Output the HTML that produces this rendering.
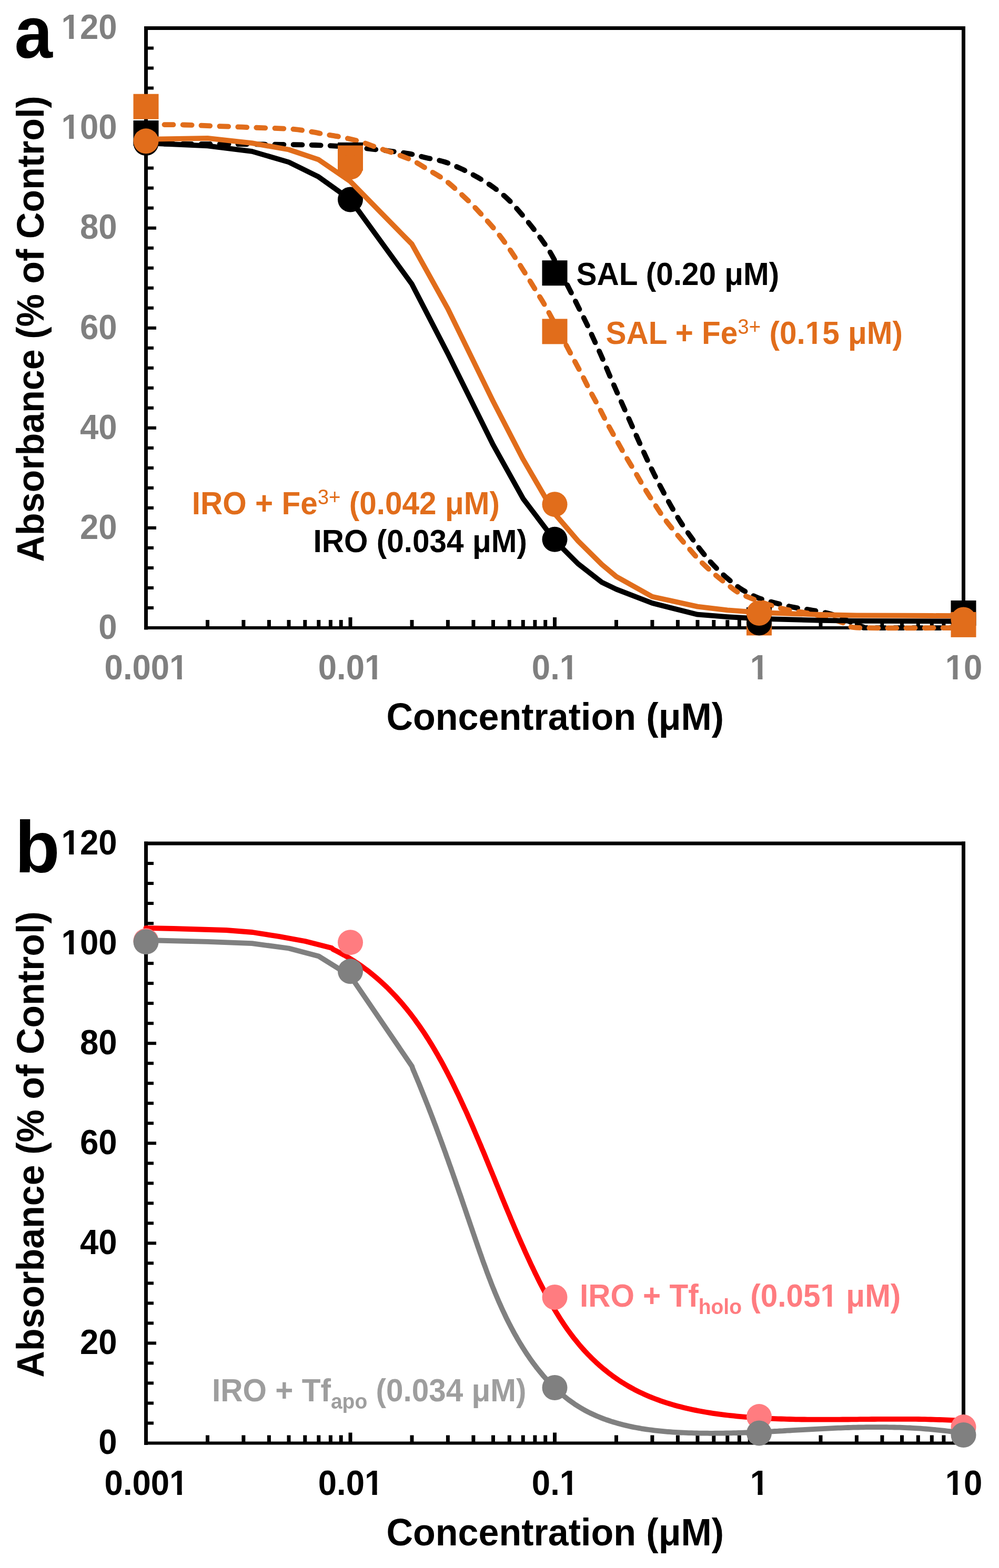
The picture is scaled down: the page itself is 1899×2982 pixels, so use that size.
<!DOCTYPE html><html><head><meta charset="utf-8"><style>html,body{margin:0;padding:0;background:#fff}svg{display:block}</style></head><body><svg xmlns="http://www.w3.org/2000/svg" width="1899" height="2982" viewBox="0 0 1899 2982" font-family="'Liberation Sans', Arial, sans-serif" font-weight="bold">
<rect width="1899" height="2982" fill="#fff"/>
<defs><clipPath id="c1" clipPathUnits="userSpaceOnUse"><path clip-rule="evenodd" d="M-4000,-4000 H4000 V4000 H-4000 Z M-106.62,-7.38 H-94.69 V1.98 H-106.62 Z M-85.40,-7.38 H-74.33 V1.98 H-85.40 Z"/></clipPath><clipPath id="c2" clipPathUnits="userSpaceOnUse"><path clip-rule="evenodd" d="M-4000,-4000 H4000 V4000 H-4000 Z M-106.62,-7.38 H-94.69 V1.98 H-106.62 Z M-85.40,-7.38 H-74.33 V1.98 H-85.40 Z"/></clipPath><clipPath id="c3" clipPathUnits="userSpaceOnUse"><path clip-rule="evenodd" d="M-4000,-4000 H4000 V4000 H-4000 Z M49.06,-7.38 H60.99 V1.98 H49.06 Z M70.28,-7.38 H81.35 V1.98 H70.28 Z"/></clipPath><clipPath id="c4" clipPathUnits="userSpaceOnUse"><path clip-rule="evenodd" d="M-4000,-4000 H4000 V4000 H-4000 Z M30.76,-7.38 H42.68 V1.98 H30.76 Z M51.97,-7.38 H63.04 V1.98 H51.97 Z"/></clipPath><clipPath id="c5" clipPathUnits="userSpaceOnUse"><path clip-rule="evenodd" d="M-4000,-4000 H4000 V4000 H-4000 Z M12.43,-7.38 H24.35 V1.98 H12.43 Z M33.64,-7.38 H44.71 V1.98 H33.64 Z"/></clipPath><clipPath id="c6" clipPathUnits="userSpaceOnUse"><path clip-rule="evenodd" d="M-4000,-4000 H4000 V4000 H-4000 Z M-15.03,-7.38 H-3.10 V1.98 H-15.03 Z M6.19,-7.38 H17.26 V1.98 H6.19 Z"/></clipPath><clipPath id="c7" clipPathUnits="userSpaceOnUse"><path clip-rule="evenodd" d="M-4000,-4000 H4000 V4000 H-4000 Z M-33.34,-7.38 H-21.41 V1.98 H-33.34 Z M-12.12,-7.38 H-1.05 V1.98 H-12.12 Z"/></clipPath><clipPath id="c8" clipPathUnits="userSpaceOnUse"><path clip-rule="evenodd" d="M-4000,-4000 H4000 V4000 H-4000 Z M396.50,-6.80 H407.49 V1.82 H396.50 Z M416.05,-6.80 H426.24 V1.82 H416.05 Z"/></clipPath><clipPath id="c9" clipPathUnits="userSpaceOnUse"><path clip-rule="evenodd" d="M-4000,-4000 H4000 V4000 H-4000 Z M-106.62,-7.38 H-94.69 V1.98 H-106.62 Z M-85.40,-7.38 H-74.33 V1.98 H-85.40 Z"/></clipPath><clipPath id="c10" clipPathUnits="userSpaceOnUse"><path clip-rule="evenodd" d="M-4000,-4000 H4000 V4000 H-4000 Z M-106.62,-7.38 H-94.69 V1.98 H-106.62 Z M-85.40,-7.38 H-74.33 V1.98 H-85.40 Z"/></clipPath><clipPath id="c11" clipPathUnits="userSpaceOnUse"><path clip-rule="evenodd" d="M-4000,-4000 H4000 V4000 H-4000 Z M49.06,-7.38 H60.99 V1.98 H49.06 Z M70.28,-7.38 H81.35 V1.98 H70.28 Z"/></clipPath><clipPath id="c12" clipPathUnits="userSpaceOnUse"><path clip-rule="evenodd" d="M-4000,-4000 H4000 V4000 H-4000 Z M30.76,-7.38 H42.68 V1.98 H30.76 Z M51.97,-7.38 H63.04 V1.98 H51.97 Z"/></clipPath><clipPath id="c13" clipPathUnits="userSpaceOnUse"><path clip-rule="evenodd" d="M-4000,-4000 H4000 V4000 H-4000 Z M12.43,-7.38 H24.35 V1.98 H12.43 Z M33.64,-7.38 H44.71 V1.98 H33.64 Z"/></clipPath><clipPath id="c14" clipPathUnits="userSpaceOnUse"><path clip-rule="evenodd" d="M-4000,-4000 H4000 V4000 H-4000 Z M-15.03,-7.38 H-3.10 V1.98 H-15.03 Z M6.19,-7.38 H17.26 V1.98 H6.19 Z"/></clipPath><clipPath id="c15" clipPathUnits="userSpaceOnUse"><path clip-rule="evenodd" d="M-4000,-4000 H4000 V4000 H-4000 Z M-33.34,-7.38 H-21.41 V1.98 H-33.34 Z M-12.12,-7.38 H-1.05 V1.98 H-12.12 Z"/></clipPath><clipPath id="c16" clipPathUnits="userSpaceOnUse"><path clip-rule="evenodd" d="M-4000,-4000 H4000 V4000 H-4000 Z M477.93,-6.80 H488.92 V1.82 H477.93 Z M497.48,-6.80 H507.68 V1.82 H497.48 Z"/></clipPath></defs>
<line x1="277.5" y1="50.0" x2="277.5" y2="1197.5" stroke="#000" stroke-width="7"/>
<line x1="1831.5" y1="50.0" x2="1831.5" y2="1197.5" stroke="#000" stroke-width="7"/>
<line x1="274.0" y1="53.5" x2="1835.0" y2="53.5" stroke="#000" stroke-width="7"/>
<line x1="274.0" y1="1194.0" x2="1835.0" y2="1194.0" stroke="#000" stroke-width="6"/>
<line x1="277.5" y1="1156.0" x2="292" y2="1156.0" stroke="#000" stroke-width="6"/>
<line x1="277.5" y1="1118.0" x2="292" y2="1118.0" stroke="#000" stroke-width="6"/>
<line x1="277.5" y1="1080.0" x2="292" y2="1080.0" stroke="#000" stroke-width="6"/>
<line x1="277.5" y1="1041.9" x2="292" y2="1041.9" stroke="#000" stroke-width="6"/>
<line x1="277.5" y1="1003.9" x2="297" y2="1003.9" stroke="#000" stroke-width="6"/>
<line x1="277.5" y1="965.9" x2="292" y2="965.9" stroke="#000" stroke-width="6"/>
<line x1="277.5" y1="927.9" x2="292" y2="927.9" stroke="#000" stroke-width="6"/>
<line x1="277.5" y1="889.9" x2="292" y2="889.9" stroke="#000" stroke-width="6"/>
<line x1="277.5" y1="851.9" x2="292" y2="851.9" stroke="#000" stroke-width="6"/>
<line x1="277.5" y1="813.8" x2="297" y2="813.8" stroke="#000" stroke-width="6"/>
<line x1="277.5" y1="775.8" x2="292" y2="775.8" stroke="#000" stroke-width="6"/>
<line x1="277.5" y1="737.8" x2="292" y2="737.8" stroke="#000" stroke-width="6"/>
<line x1="277.5" y1="699.8" x2="292" y2="699.8" stroke="#000" stroke-width="6"/>
<line x1="277.5" y1="661.8" x2="292" y2="661.8" stroke="#000" stroke-width="6"/>
<line x1="277.5" y1="623.8" x2="297" y2="623.8" stroke="#000" stroke-width="6"/>
<line x1="277.5" y1="585.7" x2="292" y2="585.7" stroke="#000" stroke-width="6"/>
<line x1="277.5" y1="547.7" x2="292" y2="547.7" stroke="#000" stroke-width="6"/>
<line x1="277.5" y1="509.7" x2="292" y2="509.7" stroke="#000" stroke-width="6"/>
<line x1="277.5" y1="471.7" x2="292" y2="471.7" stroke="#000" stroke-width="6"/>
<line x1="277.5" y1="433.7" x2="297" y2="433.7" stroke="#000" stroke-width="6"/>
<line x1="277.5" y1="395.6" x2="292" y2="395.6" stroke="#000" stroke-width="6"/>
<line x1="277.5" y1="357.6" x2="292" y2="357.6" stroke="#000" stroke-width="6"/>
<line x1="277.5" y1="319.6" x2="292" y2="319.6" stroke="#000" stroke-width="6"/>
<line x1="277.5" y1="281.6" x2="292" y2="281.6" stroke="#000" stroke-width="6"/>
<line x1="277.5" y1="243.6" x2="297" y2="243.6" stroke="#000" stroke-width="6"/>
<line x1="277.5" y1="205.6" x2="292" y2="205.6" stroke="#000" stroke-width="6"/>
<line x1="277.5" y1="167.5" x2="292" y2="167.5" stroke="#000" stroke-width="6"/>
<line x1="277.5" y1="129.5" x2="292" y2="129.5" stroke="#000" stroke-width="6"/>
<line x1="277.5" y1="91.5" x2="292" y2="91.5" stroke="#000" stroke-width="6"/>
<line x1="394.5" y1="1194.0" x2="394.5" y2="1179.0" stroke="#000" stroke-width="7"/>
<line x1="462.9" y1="1194.0" x2="462.9" y2="1179.0" stroke="#000" stroke-width="7"/>
<line x1="511.4" y1="1194.0" x2="511.4" y2="1179.0" stroke="#000" stroke-width="7"/>
<line x1="549.0" y1="1194.0" x2="549.0" y2="1179.0" stroke="#000" stroke-width="7"/>
<line x1="579.8" y1="1194.0" x2="579.8" y2="1179.0" stroke="#000" stroke-width="7"/>
<line x1="605.8" y1="1194.0" x2="605.8" y2="1179.0" stroke="#000" stroke-width="7"/>
<line x1="628.4" y1="1194.0" x2="628.4" y2="1179.0" stroke="#000" stroke-width="7"/>
<line x1="648.2" y1="1194.0" x2="648.2" y2="1179.0" stroke="#000" stroke-width="7"/>
<line x1="666.0" y1="1194.0" x2="666.0" y2="1174.0" stroke="#000" stroke-width="7"/>
<line x1="783.0" y1="1194.0" x2="783.0" y2="1179.0" stroke="#000" stroke-width="7"/>
<line x1="851.4" y1="1194.0" x2="851.4" y2="1179.0" stroke="#000" stroke-width="7"/>
<line x1="899.9" y1="1194.0" x2="899.9" y2="1179.0" stroke="#000" stroke-width="7"/>
<line x1="937.5" y1="1194.0" x2="937.5" y2="1179.0" stroke="#000" stroke-width="7"/>
<line x1="968.3" y1="1194.0" x2="968.3" y2="1179.0" stroke="#000" stroke-width="7"/>
<line x1="994.3" y1="1194.0" x2="994.3" y2="1179.0" stroke="#000" stroke-width="7"/>
<line x1="1016.9" y1="1194.0" x2="1016.9" y2="1179.0" stroke="#000" stroke-width="7"/>
<line x1="1036.7" y1="1194.0" x2="1036.7" y2="1179.0" stroke="#000" stroke-width="7"/>
<line x1="1054.5" y1="1194.0" x2="1054.5" y2="1174.0" stroke="#000" stroke-width="7"/>
<line x1="1171.5" y1="1194.0" x2="1171.5" y2="1179.0" stroke="#000" stroke-width="7"/>
<line x1="1239.9" y1="1194.0" x2="1239.9" y2="1179.0" stroke="#000" stroke-width="7"/>
<line x1="1288.4" y1="1194.0" x2="1288.4" y2="1179.0" stroke="#000" stroke-width="7"/>
<line x1="1326.0" y1="1194.0" x2="1326.0" y2="1179.0" stroke="#000" stroke-width="7"/>
<line x1="1356.8" y1="1194.0" x2="1356.8" y2="1179.0" stroke="#000" stroke-width="7"/>
<line x1="1382.8" y1="1194.0" x2="1382.8" y2="1179.0" stroke="#000" stroke-width="7"/>
<line x1="1405.4" y1="1194.0" x2="1405.4" y2="1179.0" stroke="#000" stroke-width="7"/>
<line x1="1425.2" y1="1194.0" x2="1425.2" y2="1179.0" stroke="#000" stroke-width="7"/>
<line x1="1443.0" y1="1194.0" x2="1443.0" y2="1174.0" stroke="#000" stroke-width="7"/>
<line x1="1560.0" y1="1194.0" x2="1560.0" y2="1179.0" stroke="#000" stroke-width="7"/>
<line x1="1628.4" y1="1194.0" x2="1628.4" y2="1179.0" stroke="#000" stroke-width="7"/>
<line x1="1676.9" y1="1194.0" x2="1676.9" y2="1179.0" stroke="#000" stroke-width="7"/>
<line x1="1714.5" y1="1194.0" x2="1714.5" y2="1179.0" stroke="#000" stroke-width="7"/>
<line x1="1745.3" y1="1194.0" x2="1745.3" y2="1179.0" stroke="#000" stroke-width="7"/>
<line x1="1771.3" y1="1194.0" x2="1771.3" y2="1179.0" stroke="#000" stroke-width="7"/>
<line x1="1793.9" y1="1194.0" x2="1793.9" y2="1179.0" stroke="#000" stroke-width="7"/>
<line x1="1813.7" y1="1194.0" x2="1813.7" y2="1179.0" stroke="#000" stroke-width="7"/>
<text transform="translate(222.5,1214.7) scale(0.9637,1)" font-size="65.89" text-anchor="end" fill="#808080">0</text>
<text transform="translate(222.5,1024.6) scale(0.9637,1)" font-size="65.89" text-anchor="end" fill="#808080">20</text>
<text transform="translate(222.5,834.5) scale(0.9637,1)" font-size="65.89" text-anchor="end" fill="#808080">40</text>
<text transform="translate(222.5,644.5) scale(0.9637,1)" font-size="65.89" text-anchor="end" fill="#808080">60</text>
<text transform="translate(222.5,454.4) scale(0.9637,1)" font-size="65.89" text-anchor="end" fill="#808080">80</text>
<text id="t1" clip-path="url(#c1)" transform="translate(222.5,264.3) scale(0.9637,1)" font-size="65.89" text-anchor="end" fill="#808080">100</text>
<text id="t2" clip-path="url(#c2)" transform="translate(222.5,74.2) scale(0.9637,1)" font-size="65.89" text-anchor="end" fill="#808080">120</text>
<text id="t3" clip-path="url(#c3)" transform="translate(278.0,1292.0) scale(0.9637,1)" font-size="65.89" text-anchor="middle" fill="#808080">0.001</text>
<text id="t4" clip-path="url(#c4)" transform="translate(666.5,1292.0) scale(0.9637,1)" font-size="65.89" text-anchor="middle" fill="#808080">0.01</text>
<text id="t5" clip-path="url(#c5)" transform="translate(1055.0,1292.0) scale(0.9637,1)" font-size="65.89" text-anchor="middle" fill="#808080">0.1</text>
<text id="t6" clip-path="url(#c6)" transform="translate(1443.5,1292.0) scale(0.9637,1)" font-size="65.89" text-anchor="middle" fill="#808080">1</text>
<text id="t7" clip-path="url(#c7)" transform="translate(1832.0,1292.0) scale(0.9637,1)" font-size="65.89" text-anchor="middle" fill="#808080">10</text>
<text transform="translate(1055.3,1387.5) scale(0.9637,1)" font-size="72.64" text-anchor="middle">Concentration (μM)</text>
<text transform="translate(83.0,625.5) rotate(-90) scale(0.9637,1)" font-size="72.64" text-anchor="middle">Absorbance (% of Control)</text>
<text transform="translate(27.6,109.5) scale(0.93,1)" font-size="140">a</text>
<path d="M277.5,273.5 C297.9,273.6 362.9,273.8 400.0,274.0 C437.1,274.2 466.7,274.2 500.0,274.5 C533.3,274.8 572.3,275.2 600.0,276.0 C627.7,276.8 648.1,278.2 666.0,279.5 C683.9,280.8 694.7,282.3 707.5,283.6 C720.3,284.9 731.0,286.0 742.7,287.5 C754.5,289.0 766.6,290.3 778.0,292.4 C789.4,294.5 800.0,297.6 811.2,300.2 C822.5,302.8 834.4,304.5 845.5,308.0 C856.6,311.5 867.3,316.5 877.8,321.4 C888.3,326.3 898.4,331.8 908.5,337.6 C918.6,343.4 928.7,349.5 938.2,356.4 C947.7,363.3 957.1,370.9 965.6,378.9 C974.1,386.9 981.4,395.6 989.0,404.4 C996.6,413.2 1004.3,422.7 1011.5,431.8 C1018.7,440.9 1025.7,450.1 1032.1,459.2 C1038.5,468.3 1041.2,471.3 1049.7,486.6 C1058.2,501.9 1074.8,535.1 1083.0,551.1 C1091.2,567.1 1093.4,572.0 1098.6,582.4 C1103.8,592.8 1109.2,603.2 1114.3,613.8 C1119.4,624.4 1124.1,635.2 1129.0,646.0 C1133.9,656.8 1139.0,667.5 1143.7,678.3 C1148.4,689.1 1152.8,699.8 1157.4,710.6 C1162.0,721.4 1166.8,732.1 1171.5,742.9 C1176.2,753.6 1181.0,764.4 1185.8,775.1 C1190.6,785.8 1195.4,796.4 1200.1,807.0 C1204.8,817.6 1209.4,828.1 1214.2,838.7 C1219.0,849.4 1223.8,860.3 1228.7,870.9 C1233.6,881.5 1238.4,891.7 1243.6,902.1 C1248.8,912.5 1254.2,923.0 1259.8,933.4 C1265.3,943.8 1271.1,954.6 1276.9,964.7 C1282.7,974.8 1288.2,984.2 1294.5,994.0 C1300.8,1003.8 1308.2,1013.9 1315.0,1023.4 C1321.8,1032.9 1328.3,1041.8 1335.6,1050.8 C1342.8,1059.8 1350.3,1068.7 1358.5,1077.2 C1366.7,1085.7 1375.7,1094.1 1384.6,1101.6 C1393.5,1109.1 1402.2,1116.2 1412.0,1122.2 C1421.8,1128.2 1432.3,1133.5 1443.1,1137.7 C1453.9,1141.9 1465.5,1144.5 1476.8,1147.5 C1488.1,1150.5 1499.6,1153.2 1511.0,1155.4 C1522.4,1157.6 1533.5,1158.6 1545.0,1160.7 C1556.5,1162.8 1569.2,1164.8 1580.0,1168.0 C1590.8,1171.2 1600.0,1176.0 1610.0,1180.0 C1620.0,1184.0 1631.7,1189.7 1640.0,1192.0 C1648.3,1194.3 1628.1,1193.7 1660.0,1194.0 C1691.9,1194.3 1802.9,1194.0 1831.5,1194.0" fill="none" stroke="#000" stroke-width="9.8" stroke-linejoin="round" stroke-linecap="round" stroke-dasharray="16.9 18.1"/>
<path d="M277.5,237.0 C289.6,237.1 327.0,237.0 350.0,237.5 C373.0,238.0 393.4,239.2 415.7,240.0 C437.9,240.8 460.9,241.7 483.5,242.6 C506.1,243.5 534.0,244.0 551.4,245.2 C568.8,246.4 576.7,248.2 588.0,250.0 C599.3,251.8 608.4,253.8 619.2,255.7 C630.0,257.6 641.5,259.1 652.7,261.5 C663.9,263.9 675.2,266.5 686.4,269.9 C697.5,273.2 708.5,277.8 719.6,281.6 C730.7,285.4 741.9,288.7 752.9,292.8 C763.9,296.9 775.4,301.0 785.8,306.1 C796.2,311.2 805.5,317.7 815.5,323.7 C825.5,329.7 836.1,335.4 845.5,342.3 C854.9,349.2 863.1,356.9 871.9,364.8 C880.6,372.7 889.9,381.3 898.0,389.5 C906.1,397.7 913.1,405.6 920.8,414.1 C928.5,422.6 936.7,431.6 944.0,440.6 C951.3,449.6 957.9,458.6 964.6,468.0 C971.3,477.4 977.8,487.5 984.1,497.3 C990.5,507.1 996.5,516.8 1002.7,526.7 C1008.9,536.7 1015.3,547.0 1021.3,557.0 C1027.3,567.0 1027.6,565.9 1038.9,586.4 C1050.2,606.9 1077.8,659.4 1088.9,680.2 C1100.0,701.1 1100.2,701.1 1105.6,711.5 C1111.0,721.9 1115.8,732.2 1121.2,742.5 C1126.6,752.8 1132.3,762.9 1137.8,773.2 C1143.2,783.5 1148.4,794.2 1153.9,804.5 C1159.4,814.8 1165.0,824.6 1170.7,834.8 C1176.4,845.0 1182.0,855.3 1188.0,865.5 C1194.0,875.7 1200.4,886.0 1206.4,896.2 C1212.4,906.4 1218.0,916.5 1224.0,926.5 C1230.0,936.5 1236.2,946.1 1242.6,955.9 C1249.0,965.7 1255.3,975.8 1262.2,985.2 C1269.1,994.7 1276.4,1003.6 1283.7,1012.6 C1291.0,1021.6 1298.5,1030.2 1306.2,1039.0 C1313.9,1047.8 1321.5,1057.1 1329.7,1065.5 C1337.9,1073.9 1346.4,1081.8 1355.2,1089.4 C1364.0,1097.1 1373.2,1104.5 1382.6,1111.4 C1392.0,1118.3 1395.6,1123.7 1411.6,1131.0 C1427.6,1138.3 1456.5,1149.1 1478.7,1155.3 C1500.9,1161.5 1526.5,1163.9 1545.0,1168.0 C1563.5,1172.1 1578.5,1176.6 1590.0,1180.0 C1601.5,1183.4 1605.5,1186.3 1613.8,1188.6 C1622.1,1190.9 1603.7,1193.1 1640.0,1194.0 C1676.3,1194.9 1799.6,1194.0 1831.5,1194.0" fill="none" stroke="#E16D1B" stroke-width="9.8" stroke-linejoin="round" stroke-linecap="round" stroke-dasharray="16.9 18.1"/>
<rect x="253.5" y="229.1" width="48" height="48" fill="#000"/>
<rect x="642.0" y="270.9" width="48" height="48" fill="#000"/>
<rect x="1030.5" y="495.2" width="48" height="48" fill="#000"/>
<rect x="1419.0" y="1155.0" width="48" height="48" fill="#000"/>
<rect x="1807.5" y="1142.0" width="48" height="48" fill="#000"/>
<rect x="253.5" y="178.7" width="48" height="48" fill="#E16D1B"/>
<rect x="642.0" y="276.6" width="48" height="48" fill="#E16D1B"/>
<rect x="1030.5" y="606.4" width="48" height="48" fill="#E16D1B"/>
<rect x="1419.0" y="1160.5" width="48" height="48" fill="#E16D1B"/>
<rect x="1807.5" y="1163.9" width="48" height="48" fill="#E16D1B"/>
<polyline points="277.5,272.0 394.5,277.4 478.9,287.9 549.0,308.4 605.8,336.4 666.0,379.5 783.0,540.4 851.4,672.7 937.5,846.2 994.3,948.2 1054.5,1027.7 1098.8,1072.1 1144.0,1107.3 1171.5,1120.6 1239.9,1147.0 1326.0,1168.7 1382.8,1173.1 1443.0,1176.6 1560.0,1179.9 1628.4,1180.8 1714.5,1181.1 1771.3,1181.3 1831.5,1181.5" fill="none" stroke="#000" stroke-width="9.8" stroke-linejoin="round" stroke-linecap="round"/>
<circle cx="277.5" cy="272.1" r="24" fill="#000"/>
<circle cx="666.0" cy="379.5" r="24" fill="#000"/>
<circle cx="1054.5" cy="1025.8" r="24" fill="#000"/>
<circle cx="1443.0" cy="1184.5" r="24" fill="#000"/>
<polyline points="277.5,264.8 394.5,262.8 478.9,272.2 549.0,284.5 605.8,303.7 666.0,345.0 783.0,464.3 851.4,587.4 937.5,763.6 994.3,873.4 1054.5,977.0 1098.8,1028.7 1144.0,1073.5 1171.5,1096.5 1239.9,1134.7 1326.0,1153.6 1382.8,1160.3 1443.0,1164.8 1560.0,1169.0 1628.4,1170.4 1714.5,1170.7 1771.3,1171.0 1831.5,1171.2" fill="none" stroke="#E16D1B" stroke-width="9.8" stroke-linejoin="round" stroke-linecap="round"/>
<circle cx="277.5" cy="268.3" r="24" fill="#E16D1B"/>
<circle cx="666.0" cy="317.7" r="24" fill="#E16D1B"/>
<circle cx="1054.5" cy="959.2" r="24" fill="#E16D1B"/>
<circle cx="1443.0" cy="1166.0" r="24" fill="#E16D1B"/>
<circle cx="1831.5" cy="1178.4" r="24" fill="#E16D1B"/>
<text transform="translate(1095.5,542.0) scale(0.9637,1)" font-size="60.70">SAL (0.20 μM)</text>
<text id="t8" clip-path="url(#c8)" transform="translate(1151.5,654.0) scale(0.9637,1)" font-size="60.70" fill="#E16D1B">SAL + Fe<tspan font-size="39.95" font-weight="normal" dy="-19">3+</tspan><tspan dy="19"> (0.15 μM)</tspan></text>
<text transform="translate(364.8,977.8) scale(0.9637,1)" font-size="60.70" fill="#E16D1B">IRO + Fe<tspan font-size="39.95" font-weight="normal" dy="-19">3+</tspan><tspan dy="19"> (0.042 μM)</tspan></text>
<text transform="translate(595.6,1049.9) scale(0.9637,1)" font-size="60.70">IRO (0.034 μM)</text>
<line x1="277.5" y1="1600.5" x2="277.5" y2="2748.0" stroke="#000" stroke-width="7"/>
<line x1="1831.5" y1="1600.5" x2="1831.5" y2="2748.0" stroke="#000" stroke-width="7"/>
<line x1="274.0" y1="1604.0" x2="1835.0" y2="1604.0" stroke="#000" stroke-width="7"/>
<line x1="274.0" y1="2744.5" x2="1835.0" y2="2744.5" stroke="#000" stroke-width="6"/>
<line x1="277.5" y1="2706.5" x2="292" y2="2706.5" stroke="#000" stroke-width="6"/>
<line x1="277.5" y1="2668.5" x2="292" y2="2668.5" stroke="#000" stroke-width="6"/>
<line x1="277.5" y1="2630.4" x2="292" y2="2630.4" stroke="#000" stroke-width="6"/>
<line x1="277.5" y1="2592.4" x2="292" y2="2592.4" stroke="#000" stroke-width="6"/>
<line x1="277.5" y1="2554.4" x2="297" y2="2554.4" stroke="#000" stroke-width="6"/>
<line x1="277.5" y1="2516.4" x2="292" y2="2516.4" stroke="#000" stroke-width="6"/>
<line x1="277.5" y1="2478.4" x2="292" y2="2478.4" stroke="#000" stroke-width="6"/>
<line x1="277.5" y1="2440.4" x2="292" y2="2440.4" stroke="#000" stroke-width="6"/>
<line x1="277.5" y1="2402.3" x2="292" y2="2402.3" stroke="#000" stroke-width="6"/>
<line x1="277.5" y1="2364.3" x2="297" y2="2364.3" stroke="#000" stroke-width="6"/>
<line x1="277.5" y1="2326.3" x2="292" y2="2326.3" stroke="#000" stroke-width="6"/>
<line x1="277.5" y1="2288.3" x2="292" y2="2288.3" stroke="#000" stroke-width="6"/>
<line x1="277.5" y1="2250.3" x2="292" y2="2250.3" stroke="#000" stroke-width="6"/>
<line x1="277.5" y1="2212.3" x2="292" y2="2212.3" stroke="#000" stroke-width="6"/>
<line x1="277.5" y1="2174.2" x2="297" y2="2174.2" stroke="#000" stroke-width="6"/>
<line x1="277.5" y1="2136.2" x2="292" y2="2136.2" stroke="#000" stroke-width="6"/>
<line x1="277.5" y1="2098.2" x2="292" y2="2098.2" stroke="#000" stroke-width="6"/>
<line x1="277.5" y1="2060.2" x2="292" y2="2060.2" stroke="#000" stroke-width="6"/>
<line x1="277.5" y1="2022.2" x2="292" y2="2022.2" stroke="#000" stroke-width="6"/>
<line x1="277.5" y1="1984.2" x2="297" y2="1984.2" stroke="#000" stroke-width="6"/>
<line x1="277.5" y1="1946.2" x2="292" y2="1946.2" stroke="#000" stroke-width="6"/>
<line x1="277.5" y1="1908.1" x2="292" y2="1908.1" stroke="#000" stroke-width="6"/>
<line x1="277.5" y1="1870.1" x2="292" y2="1870.1" stroke="#000" stroke-width="6"/>
<line x1="277.5" y1="1832.1" x2="292" y2="1832.1" stroke="#000" stroke-width="6"/>
<line x1="277.5" y1="1794.1" x2="297" y2="1794.1" stroke="#000" stroke-width="6"/>
<line x1="277.5" y1="1756.1" x2="292" y2="1756.1" stroke="#000" stroke-width="6"/>
<line x1="277.5" y1="1718.0" x2="292" y2="1718.0" stroke="#000" stroke-width="6"/>
<line x1="277.5" y1="1680.0" x2="292" y2="1680.0" stroke="#000" stroke-width="6"/>
<line x1="277.5" y1="1642.0" x2="292" y2="1642.0" stroke="#000" stroke-width="6"/>
<line x1="394.5" y1="2744.5" x2="394.5" y2="2729.5" stroke="#000" stroke-width="7"/>
<line x1="462.9" y1="2744.5" x2="462.9" y2="2729.5" stroke="#000" stroke-width="7"/>
<line x1="511.4" y1="2744.5" x2="511.4" y2="2729.5" stroke="#000" stroke-width="7"/>
<line x1="549.0" y1="2744.5" x2="549.0" y2="2729.5" stroke="#000" stroke-width="7"/>
<line x1="579.8" y1="2744.5" x2="579.8" y2="2729.5" stroke="#000" stroke-width="7"/>
<line x1="605.8" y1="2744.5" x2="605.8" y2="2729.5" stroke="#000" stroke-width="7"/>
<line x1="628.4" y1="2744.5" x2="628.4" y2="2729.5" stroke="#000" stroke-width="7"/>
<line x1="648.2" y1="2744.5" x2="648.2" y2="2729.5" stroke="#000" stroke-width="7"/>
<line x1="666.0" y1="2744.5" x2="666.0" y2="2724.5" stroke="#000" stroke-width="7"/>
<line x1="783.0" y1="2744.5" x2="783.0" y2="2729.5" stroke="#000" stroke-width="7"/>
<line x1="851.4" y1="2744.5" x2="851.4" y2="2729.5" stroke="#000" stroke-width="7"/>
<line x1="899.9" y1="2744.5" x2="899.9" y2="2729.5" stroke="#000" stroke-width="7"/>
<line x1="937.5" y1="2744.5" x2="937.5" y2="2729.5" stroke="#000" stroke-width="7"/>
<line x1="968.3" y1="2744.5" x2="968.3" y2="2729.5" stroke="#000" stroke-width="7"/>
<line x1="994.3" y1="2744.5" x2="994.3" y2="2729.5" stroke="#000" stroke-width="7"/>
<line x1="1016.9" y1="2744.5" x2="1016.9" y2="2729.5" stroke="#000" stroke-width="7"/>
<line x1="1036.7" y1="2744.5" x2="1036.7" y2="2729.5" stroke="#000" stroke-width="7"/>
<line x1="1054.5" y1="2744.5" x2="1054.5" y2="2724.5" stroke="#000" stroke-width="7"/>
<line x1="1171.5" y1="2744.5" x2="1171.5" y2="2729.5" stroke="#000" stroke-width="7"/>
<line x1="1239.9" y1="2744.5" x2="1239.9" y2="2729.5" stroke="#000" stroke-width="7"/>
<line x1="1288.4" y1="2744.5" x2="1288.4" y2="2729.5" stroke="#000" stroke-width="7"/>
<line x1="1326.0" y1="2744.5" x2="1326.0" y2="2729.5" stroke="#000" stroke-width="7"/>
<line x1="1356.8" y1="2744.5" x2="1356.8" y2="2729.5" stroke="#000" stroke-width="7"/>
<line x1="1382.8" y1="2744.5" x2="1382.8" y2="2729.5" stroke="#000" stroke-width="7"/>
<line x1="1405.4" y1="2744.5" x2="1405.4" y2="2729.5" stroke="#000" stroke-width="7"/>
<line x1="1425.2" y1="2744.5" x2="1425.2" y2="2729.5" stroke="#000" stroke-width="7"/>
<line x1="1443.0" y1="2744.5" x2="1443.0" y2="2724.5" stroke="#000" stroke-width="7"/>
<line x1="1560.0" y1="2744.5" x2="1560.0" y2="2729.5" stroke="#000" stroke-width="7"/>
<line x1="1628.4" y1="2744.5" x2="1628.4" y2="2729.5" stroke="#000" stroke-width="7"/>
<line x1="1676.9" y1="2744.5" x2="1676.9" y2="2729.5" stroke="#000" stroke-width="7"/>
<line x1="1714.5" y1="2744.5" x2="1714.5" y2="2729.5" stroke="#000" stroke-width="7"/>
<line x1="1745.3" y1="2744.5" x2="1745.3" y2="2729.5" stroke="#000" stroke-width="7"/>
<line x1="1771.3" y1="2744.5" x2="1771.3" y2="2729.5" stroke="#000" stroke-width="7"/>
<line x1="1793.9" y1="2744.5" x2="1793.9" y2="2729.5" stroke="#000" stroke-width="7"/>
<line x1="1813.7" y1="2744.5" x2="1813.7" y2="2729.5" stroke="#000" stroke-width="7"/>
<text transform="translate(222.5,2765.2) scale(0.9637,1)" font-size="65.89" text-anchor="end" fill="#000">0</text>
<text transform="translate(222.5,2575.1) scale(0.9637,1)" font-size="65.89" text-anchor="end" fill="#000">20</text>
<text transform="translate(222.5,2385.0) scale(0.9637,1)" font-size="65.89" text-anchor="end" fill="#000">40</text>
<text transform="translate(222.5,2194.9) scale(0.9637,1)" font-size="65.89" text-anchor="end" fill="#000">60</text>
<text transform="translate(222.5,2004.9) scale(0.9637,1)" font-size="65.89" text-anchor="end" fill="#000">80</text>
<text id="t9" clip-path="url(#c9)" transform="translate(222.5,1814.8) scale(0.9637,1)" font-size="65.89" text-anchor="end" fill="#000">100</text>
<text id="t10" clip-path="url(#c10)" transform="translate(222.5,1624.7) scale(0.9637,1)" font-size="65.89" text-anchor="end" fill="#000">120</text>
<text id="t11" clip-path="url(#c11)" transform="translate(278.0,2842.5) scale(0.9637,1)" font-size="65.89" text-anchor="middle" fill="#000">0.001</text>
<text id="t12" clip-path="url(#c12)" transform="translate(666.5,2842.5) scale(0.9637,1)" font-size="65.89" text-anchor="middle" fill="#000">0.01</text>
<text id="t13" clip-path="url(#c13)" transform="translate(1055.0,2842.5) scale(0.9637,1)" font-size="65.89" text-anchor="middle" fill="#000">0.1</text>
<text id="t14" clip-path="url(#c14)" transform="translate(1443.5,2842.5) scale(0.9637,1)" font-size="65.89" text-anchor="middle" fill="#000">1</text>
<text id="t15" clip-path="url(#c15)" transform="translate(1832.0,2842.5) scale(0.9637,1)" font-size="65.89" text-anchor="middle" fill="#000">10</text>
<text transform="translate(1055.3,2939.0) scale(0.9637,1)" font-size="72.64" text-anchor="middle">Concentration (μM)</text>
<text transform="translate(83.0,2176.5) rotate(-90) scale(0.9637,1)" font-size="72.64" text-anchor="middle">Absorbance (% of Control)</text>
<text x="28.2" y="1658.8" font-size="140">b</text>
<polyline points="277.5,1764.8 330.0,1766.0 430.0,1769.0 480.0,1773.0 530.0,1780.9 580.0,1790.0 630.0,1802.7 633.9,1805.8 639.2,1808.4 644.4,1811.1 649.5,1813.8 654.6,1816.6 659.6,1819.5 664.5,1822.5 669.4,1825.5 674.2,1828.5 678.9,1831.6 683.6,1834.8 688.2,1838.1 692.8,1841.4 697.3,1844.7 701.8,1848.2 706.1,1851.6 710.5,1855.2 714.7,1858.8 719.0,1862.4 723.1,1866.1 727.2,1869.8 731.3,1873.6 735.3,1877.4 739.2,1881.3 743.1,1885.3 747.0,1889.3 750.8,1893.3 754.5,1897.4 758.2,1901.5 761.9,1905.6 765.5,1909.8 769.0,1914.1 772.6,1918.4 776.0,1922.7 779.5,1927.0 782.8,1931.4 786.2,1935.9 789.5,1940.3 792.7,1944.8 796.0,1949.4 799.1,1953.9 802.3,1958.5 805.4,1963.1 808.5,1967.8 811.5,1972.5 814.5,1977.2 817.4,1981.9 820.4,1986.7 823.3,1991.5 826.1,1996.3 829.0,2001.2 831.8,2006.0 834.5,2010.9 837.3,2015.8 840.0,2020.7 842.7,2025.7 845.3,2030.6 847.9,2035.6 850.6,2040.6 853.1,2045.6 855.7,2050.6 858.2,2055.6 860.7,2060.7 863.2,2065.7 865.7,2070.8 868.1,2075.8 870.6,2080.9 873.0,2086.0 875.4,2091.1 877.7,2096.2 880.1,2101.3 882.4,2106.4 884.8,2111.5 887.1,2116.6 889.4,2121.8 891.6,2126.9 893.9,2132.0 896.2,2137.2 898.4,2142.3 900.6,2147.5 902.8,2152.6 905.0,2157.8 907.2,2163.0 909.4,2168.1 911.6,2173.3 913.8,2178.5 915.9,2183.7 918.1,2188.8 920.3,2194.0 922.4,2199.2 924.5,2204.4 926.7,2209.6 928.8,2214.8 930.9,2220.0 933.0,2225.2 935.2,2230.4 937.3,2235.5 939.4,2240.7 941.5,2245.9 943.6,2251.1 945.8,2256.3 947.9,2261.5 950.0,2266.7 952.1,2271.9 954.2,2277.1 956.4,2282.3 958.5,2287.5 960.6,2292.7 962.8,2297.9 964.9,2303.0 967.1,2308.2 969.3,2313.4 971.4,2318.6 973.6,2323.7 975.8,2328.9 978.0,2334.1 980.2,2339.2 982.4,2344.4 984.6,2349.5 986.9,2354.7 989.1,2359.8 991.4,2365.0 993.7,2370.1 996.0,2375.2 998.3,2380.4 1000.6,2385.5 1002.9,2390.6 1005.3,2395.7 1007.7,2400.8 1010.0,2405.9 1012.5,2411.0 1014.9,2416.0 1017.3,2421.1 1019.8,2426.2 1022.3,2431.2 1024.8,2436.3 1027.3,2441.3 1029.9,2446.3 1032.5,2451.3 1035.1,2456.3 1037.7,2461.3 1040.4,2466.2 1043.1,2471.1 1045.8,2476.0 1048.6,2480.9 1051.4,2485.8 1054.3,2490.6 1057.1,2495.4 1060.1,2500.2 1063.0,2504.9 1066.0,2509.6 1069.1,2514.3 1072.2,2518.9 1075.3,2523.5 1078.5,2528.1 1081.8,2532.6 1085.1,2537.1 1088.4,2541.5 1091.8,2545.9 1095.3,2550.2 1098.8,2554.5 1102.4,2558.8 1106.0,2563.0 1109.7,2567.1 1113.4,2571.2 1117.3,2575.3 1121.1,2579.2 1125.1,2583.2 1129.1,2587.0 1133.1,2590.8 1137.3,2594.6 1141.4,2598.3 1145.7,2601.9 1150.0,2605.4 1154.3,2608.9 1158.7,2612.3 1163.2,2615.7 1167.7,2618.9 1172.2,2622.1 1176.8,2625.2 1181.5,2628.3 1186.2,2631.2 1190.9,2634.1 1195.7,2636.9 1200.6,2639.6 1205.5,2642.3 1210.4,2644.8 1215.4,2647.3 1220.4,2649.7 1225.4,2652.0 1230.5,2654.2 1235.6,2656.4 1240.8,2658.5 1246.0,2660.5 1251.2,2662.4 1256.4,2664.3 1261.7,2666.1 1267.0,2667.9 1272.4,2669.5 1277.7,2671.1 1283.1,2672.7 1288.6,2674.2 1294.0,2675.6 1299.5,2677.0 1304.9,2678.3 1310.5,2679.5 1316.0,2680.7 1321.5,2681.9 1327.1,2683.0 1332.6,2684.0 1338.2,2685.0 1343.8,2686.0 1349.4,2686.9 1355.1,2687.8 1360.7,2688.6 1366.3,2689.4 1372.0,2690.1 1377.6,2690.8 1383.2,2691.5 1388.9,2692.1 1394.6,2692.7 1400.2,2693.3 1405.9,2693.8 1411.5,2694.3 1417.2,2694.8 1422.8,2695.2 1428.5,2695.6 1434.1,2696.0 1439.7,2696.4 1445.3,2696.7 1451.0,2697.1 1456.6,2697.4 1462.2,2697.6 1467.8,2697.9 1473.4,2698.1 1479.0,2698.3 1484.6,2698.5 1490.2,2698.7 1495.8,2698.9 1501.3,2699.0 1506.9,2699.2 1512.5,2699.3 1518.1,2699.4 1523.7,2699.5 1529.2,2699.5 1534.8,2699.6 1540.4,2699.6 1545.9,2699.7 1551.5,2699.7 1557.1,2699.7 1562.6,2699.7 1568.2,2699.7 1573.7,2699.7 1579.3,2699.7 1584.9,2699.7 1590.4,2699.6 1596.0,2699.6 1601.5,2699.5 1607.1,2699.5 1612.6,2699.5 1618.2,2699.4 1623.8,2699.3 1629.3,2699.3 1634.9,2699.2 1640.4,2699.2 1646.0,2699.1 1651.6,2699.1 1657.1,2699.0 1662.7,2699.0 1668.3,2698.9 1673.8,2698.9 1679.4,2698.8 1685.0,2698.8 1690.6,2698.8 1696.2,2698.8 1701.7,2698.8 1707.3,2698.8 1712.9,2698.8 1718.5,2698.8 1724.1,2698.8 1729.7,2698.8 1735.3,2698.9 1741.0,2698.9 1746.6,2699.0 1752.2,2699.1 1757.8,2699.2 1763.5,2699.3 1769.1,2699.5 1774.7,2699.6 1780.4,2699.8 1786.0,2700.0 1791.7,2700.2 1797.4,2700.4 1803.0,2700.6 1808.7,2700.9 1814.4,2701.2 1820.1,2701.5 1825.8,2701.8 1831.5,2702.2" fill="none" stroke="#FF0000" stroke-width="9.8" stroke-linejoin="round" stroke-linecap="round"/>
<circle cx="277.5" cy="1789.3" r="24" fill="#FF7C80"/>
<circle cx="666.0" cy="1792.2" r="24" fill="#FF7C80"/>
<circle cx="1054.5" cy="2467.0" r="24" fill="#FF7C80"/>
<circle cx="1443.0" cy="2694.1" r="24" fill="#FF7C80"/>
<circle cx="1831.5" cy="2714.1" r="24" fill="#FF7C80"/>
<polyline points="277.5,1788.0 394.5,1790.8 478.9,1794.2 549.0,1803.5 605.8,1818.5 666.0,1856.0 783.0,2027.7 784.8,2033.0 786.7,2037.5 788.6,2041.9 790.4,2046.3 792.3,2050.7 794.1,2055.2 796.0,2059.7 797.8,2064.1 799.6,2068.6 801.4,2073.1 803.2,2077.6 805.0,2082.1 806.8,2086.6 808.6,2091.1 810.4,2095.7 812.2,2100.2 814.0,2104.8 815.7,2109.3 817.5,2113.9 819.3,2118.5 821.0,2123.0 822.8,2127.6 824.5,2132.2 826.2,2136.8 828.0,2141.4 829.7,2146.0 831.4,2150.6 833.1,2155.3 834.8,2159.9 836.5,2164.5 838.2,2169.2 839.9,2173.8 841.6,2178.5 843.3,2183.1 845.0,2187.8 846.7,2192.4 848.3,2197.1 850.0,2201.8 851.7,2206.4 853.3,2211.1 855.0,2215.8 856.7,2220.5 858.3,2225.1 860.0,2229.8 861.6,2234.5 863.2,2239.2 864.9,2243.9 866.5,2248.6 868.1,2253.3 869.8,2258.0 871.4,2262.7 873.0,2267.3 874.7,2272.0 876.3,2276.7 877.9,2281.4 879.5,2286.1 881.1,2290.8 882.7,2295.5 884.3,2300.2 885.9,2304.9 887.5,2309.6 889.1,2314.3 890.7,2318.9 892.3,2323.6 893.9,2328.3 895.5,2333.0 897.1,2337.7 898.7,2342.3 900.3,2347.0 901.9,2351.7 903.5,2356.3 905.1,2361.0 906.7,2365.6 908.3,2370.3 909.9,2374.9 911.5,2379.6 913.1,2384.2 914.8,2388.8 916.4,2393.5 918.0,2398.1 919.7,2402.7 921.4,2407.3 923.1,2411.9 924.7,2416.5 926.4,2421.1 928.2,2425.7 929.9,2430.3 931.7,2434.8 933.4,2439.4 935.2,2444.0 937.0,2448.5 938.9,2453.0 940.7,2457.6 942.6,2462.1 944.5,2466.6 946.4,2471.1 948.3,2475.6 950.3,2480.1 952.3,2484.6 954.3,2489.0 956.4,2493.5 958.5,2497.9 960.6,2502.4 962.7,2506.8 964.9,2511.2 967.1,2515.6 969.4,2520.0 971.7,2524.4 974.0,2528.8 976.3,2533.1 978.7,2537.5 981.2,2541.8 983.6,2546.1 986.1,2550.4 988.7,2554.7 991.3,2558.9 993.9,2563.2 996.6,2567.4 999.3,2571.6 1002.0,2575.7 1004.8,2579.8 1007.6,2583.9 1010.5,2588.0 1013.4,2592.0 1016.4,2595.9 1019.3,2599.9 1022.4,2603.8 1025.5,2607.6 1028.6,2611.4 1031.7,2615.2 1034.9,2618.9 1038.2,2622.6 1041.5,2626.2 1044.8,2629.7 1048.2,2633.2 1051.6,2636.7 1055.1,2640.1 1058.6,2643.4 1062.2,2646.7 1065.8,2649.9 1069.5,2653.0 1073.2,2656.0 1076.9,2659.0 1080.7,2662.0 1084.6,2664.8 1088.5,2667.6 1092.4,2670.3 1096.4,2672.9 1100.4,2675.4 1104.5,2677.9 1108.6,2680.3 1112.8,2682.6 1117.1,2684.8 1121.3,2687.0 1125.6,2689.0 1130.0,2691.0 1134.4,2693.0 1138.8,2694.8 1143.3,2696.6 1147.8,2698.3 1152.3,2700.0 1156.9,2701.5 1161.5,2703.1 1166.2,2704.5 1170.9,2705.9 1175.6,2707.3 1180.3,2708.5 1185.0,2709.8 1189.8,2710.9 1194.6,2712.0 1199.5,2713.1 1204.3,2714.1 1209.2,2715.0 1214.1,2715.9 1219.0,2716.8 1224.0,2717.6 1228.9,2718.3 1233.9,2719.0 1238.9,2719.7 1243.9,2720.3 1248.9,2720.9 1253.9,2721.4 1258.9,2721.9 1263.9,2722.4 1269.0,2722.8 1274.0,2723.2 1279.1,2723.6 1284.1,2723.9 1289.2,2724.2 1294.3,2724.5 1299.3,2724.7 1304.4,2724.9 1309.4,2725.1 1314.5,2725.2 1319.5,2725.4 1324.6,2725.5 1329.6,2725.6 1334.6,2725.7 1339.6,2725.7 1344.7,2725.7 1349.6,2725.8 1354.6,2725.8 1359.6,2725.7 1364.6,2725.7 1369.6,2725.7 1374.5,2725.6 1379.5,2725.5 1384.4,2725.4 1389.3,2725.3 1394.3,2725.2 1399.2,2725.1 1404.1,2725.0 1409.0,2724.8 1413.9,2724.6 1418.8,2724.5 1423.7,2724.3 1428.6,2724.1 1433.5,2723.9 1438.3,2723.7 1443.2,2723.5 1448.1,2723.2 1452.9,2723.0 1457.8,2722.8 1462.6,2722.5 1467.5,2722.3 1472.3,2722.0 1477.2,2721.8 1482.0,2721.5 1486.8,2721.3 1491.7,2721.0 1496.5,2720.7 1501.3,2720.5 1506.2,2720.2 1511.0,2719.9 1515.8,2719.7 1520.6,2719.4 1525.5,2719.1 1530.3,2718.8 1535.1,2718.6 1539.9,2718.3 1544.7,2718.1 1549.6,2717.8 1554.4,2717.6 1559.2,2717.3 1564.0,2717.1 1568.8,2716.8 1573.7,2716.6 1578.5,2716.4 1583.3,2716.2 1588.1,2715.9 1593.0,2715.7 1597.8,2715.6 1602.6,2715.4 1607.5,2715.2 1612.3,2715.0 1617.2,2714.9 1622.0,2714.7 1626.9,2714.6 1631.7,2714.5 1636.6,2714.4 1641.4,2714.3 1646.3,2714.2 1651.2,2714.2 1656.0,2714.1 1660.9,2714.1 1665.8,2714.1 1670.7,2714.1 1675.6,2714.1 1680.5,2714.1 1685.4,2714.2 1690.3,2714.3 1695.2,2714.3 1700.2,2714.5 1705.1,2714.6 1710.1,2714.7 1715.0,2714.9 1720.0,2715.1 1724.9,2715.3 1729.9,2715.5 1734.9,2715.8 1739.9,2716.1 1744.9,2716.4 1749.9,2716.7 1754.9,2717.1 1759.9,2717.5 1765.0,2717.9 1770.0,2718.3 1775.1,2718.8 1780.1,2719.3 1785.2,2719.8 1790.3,2720.3 1795.4,2720.9 1800.5,2721.5 1805.7,2722.2 1810.8,2722.8 1815.9,2723.5 1821.1,2724.3 1826.3,2725.0 1831.4,2725.8" fill="none" stroke="#808080" stroke-width="9.8" stroke-linejoin="round" stroke-linecap="round"/>
<circle cx="277.5" cy="1791.2" r="24" fill="#808080"/>
<circle cx="666.0" cy="1847.3" r="24" fill="#808080"/>
<circle cx="1054.5" cy="2639.0" r="24" fill="#808080"/>
<circle cx="1443.0" cy="2725.5" r="24" fill="#808080"/>
<circle cx="1831.5" cy="2729.0" r="24" fill="#808080"/>
<text id="t16" clip-path="url(#c16)" transform="translate(1101.9,2484.8) scale(0.9637,1)" font-size="60.70" fill="#FF7C80">IRO + Tf<tspan font-size="40.47" dy="14">holo</tspan><tspan dy="-14"> (0.051 μM)</tspan></text>
<text transform="translate(403.1,2665.0) scale(0.9637,1)" font-size="60.70" fill="#9E9E9E">IRO + Tf<tspan font-size="40.47" dy="13.5">apo</tspan><tspan dy="-13.5"> (0.034 μM)</tspan></text>
</svg></body></html>
